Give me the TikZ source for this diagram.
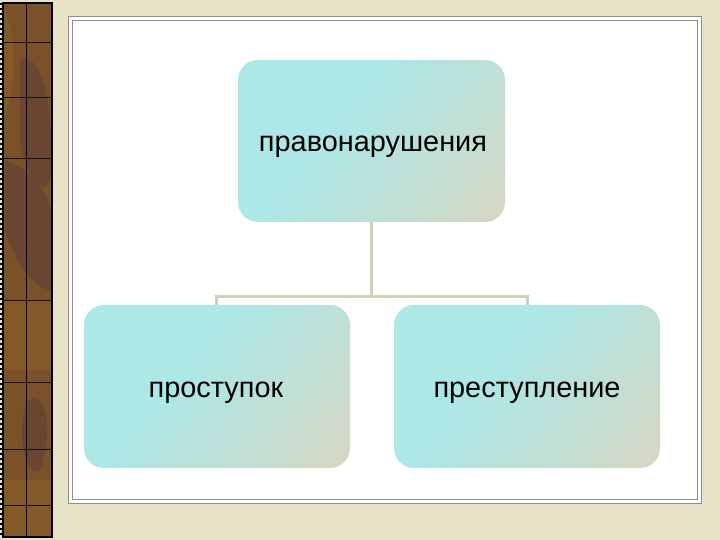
\documentclass[tikz,border=0pt]{standalone}
\usepackage{fontspec}
\setmainfont{Liberation Sans}
\definecolor{bg}{HTML}{E8E3C8}
\definecolor{cy}{HTML}{ADE7E6}
\definecolor{be}{HTML}{DCD5BE}
\definecolor{con}{HTML}{D4CEB4}
\definecolor{frm}{HTML}{8E8E8E}
\definecolor{br1}{HTML}{7A5128}
\definecolor{br2}{HTML}{6A4530}
\definecolor{br3}{HTML}{835A28}
\pgfdeclarehorizontalshading{boxshade}{100bp}{color(0bp)=(cy); color(42bp)=(cy); color(68bp)=(cy!50!be); color(88bp)=(be); color(100bp)=(be)}
\tikzset{
  box/.style={rounded corners=20bp, shading=boxshade, shading angle=-40},
  lbl/.style={font=\fontsize{29}{34}\selectfont, text=black, anchor=base, inner sep=0pt},
  conn/.style={con, line width=3bp}
}
\begin{document}
\begin{tikzpicture}[x=1bp,y=-1bp]
\useasboundingbox (0,0) rectangle (720,540);
\fill[bg] (0,0) rectangle (720,540);
% left strip
\fill[br1] (3,3) rectangle (52,537);
\begin{scope}
\clip (3,3) rectangle (52,537);
\fill[br2] (20,60) .. controls (45,50) and (55,120) .. (50,180) .. controls (40,200) and (25,170) .. (20,140) -- cycle;
\fill[br2] (5,160) .. controls (30,170) and (60,190) .. (52,260) -- (52,290) .. controls (30,290) and (10,250) .. (5,230) -- cycle;
\fill[br3] (3,300) rectangle (52,370);
\fill[br2] (28,400) .. controls (50,390) and (52,440) .. (40,470) .. controls (25,480) and (15,430) .. (28,400) -- cycle;
\fill[br3] (3,10) .. controls (20,40) and (15,90) .. (3,120) -- cycle;
\fill[br3] (3,480) rectangle (52,537);
\end{scope}
\draw[black, line width=1.3bp] (3,3) rectangle (52,537);
\draw[black, line width=1bp] (26,3) -- (26,537);
\foreach \yy in {43,98,159,300,382,449,505}
  \draw[black!80!br2, line width=1bp] (3,\yy) -- (52,\yy);
\draw[black, line width=1.2bp, dash pattern=on 2bp off 3bp] (1,3) -- (1,537);
% panel
\fill[white] (68,16) rectangle (702,504);
\draw[frm, line width=1.6bp] (68.5,16.5) rectangle (701.5,503.5);
\draw[frm, line width=0.9bp] (72.5,20.5) rectangle (697.5,499.5);
% boxes
\path[box] (238,60) rectangle (505,222);
\path[box] (84,305) rectangle (350,468);
\path[box] (394,305) rectangle (660,468);
\node[lbl] (top) at (373,151.5) {правонарушения};
\node[lbl] (l) at (216,397) {проступок};
\node[lbl] (r) at (527,397) {преступление};
\coordinate (tb) at (371.5,222);
\coordinate (mid) at (371.5,296);
\coordinate (lj) at (216,296);
\coordinate (rj) at (527,296);
\coordinate (lb) at (216,305);
\coordinate (rb) at (527,305);
% connectors
\draw[conn] (tb) -- (mid);
\draw[conn] (lb) -- (lj) -- (rj) -- (rb);
\end{tikzpicture}
\end{document}
